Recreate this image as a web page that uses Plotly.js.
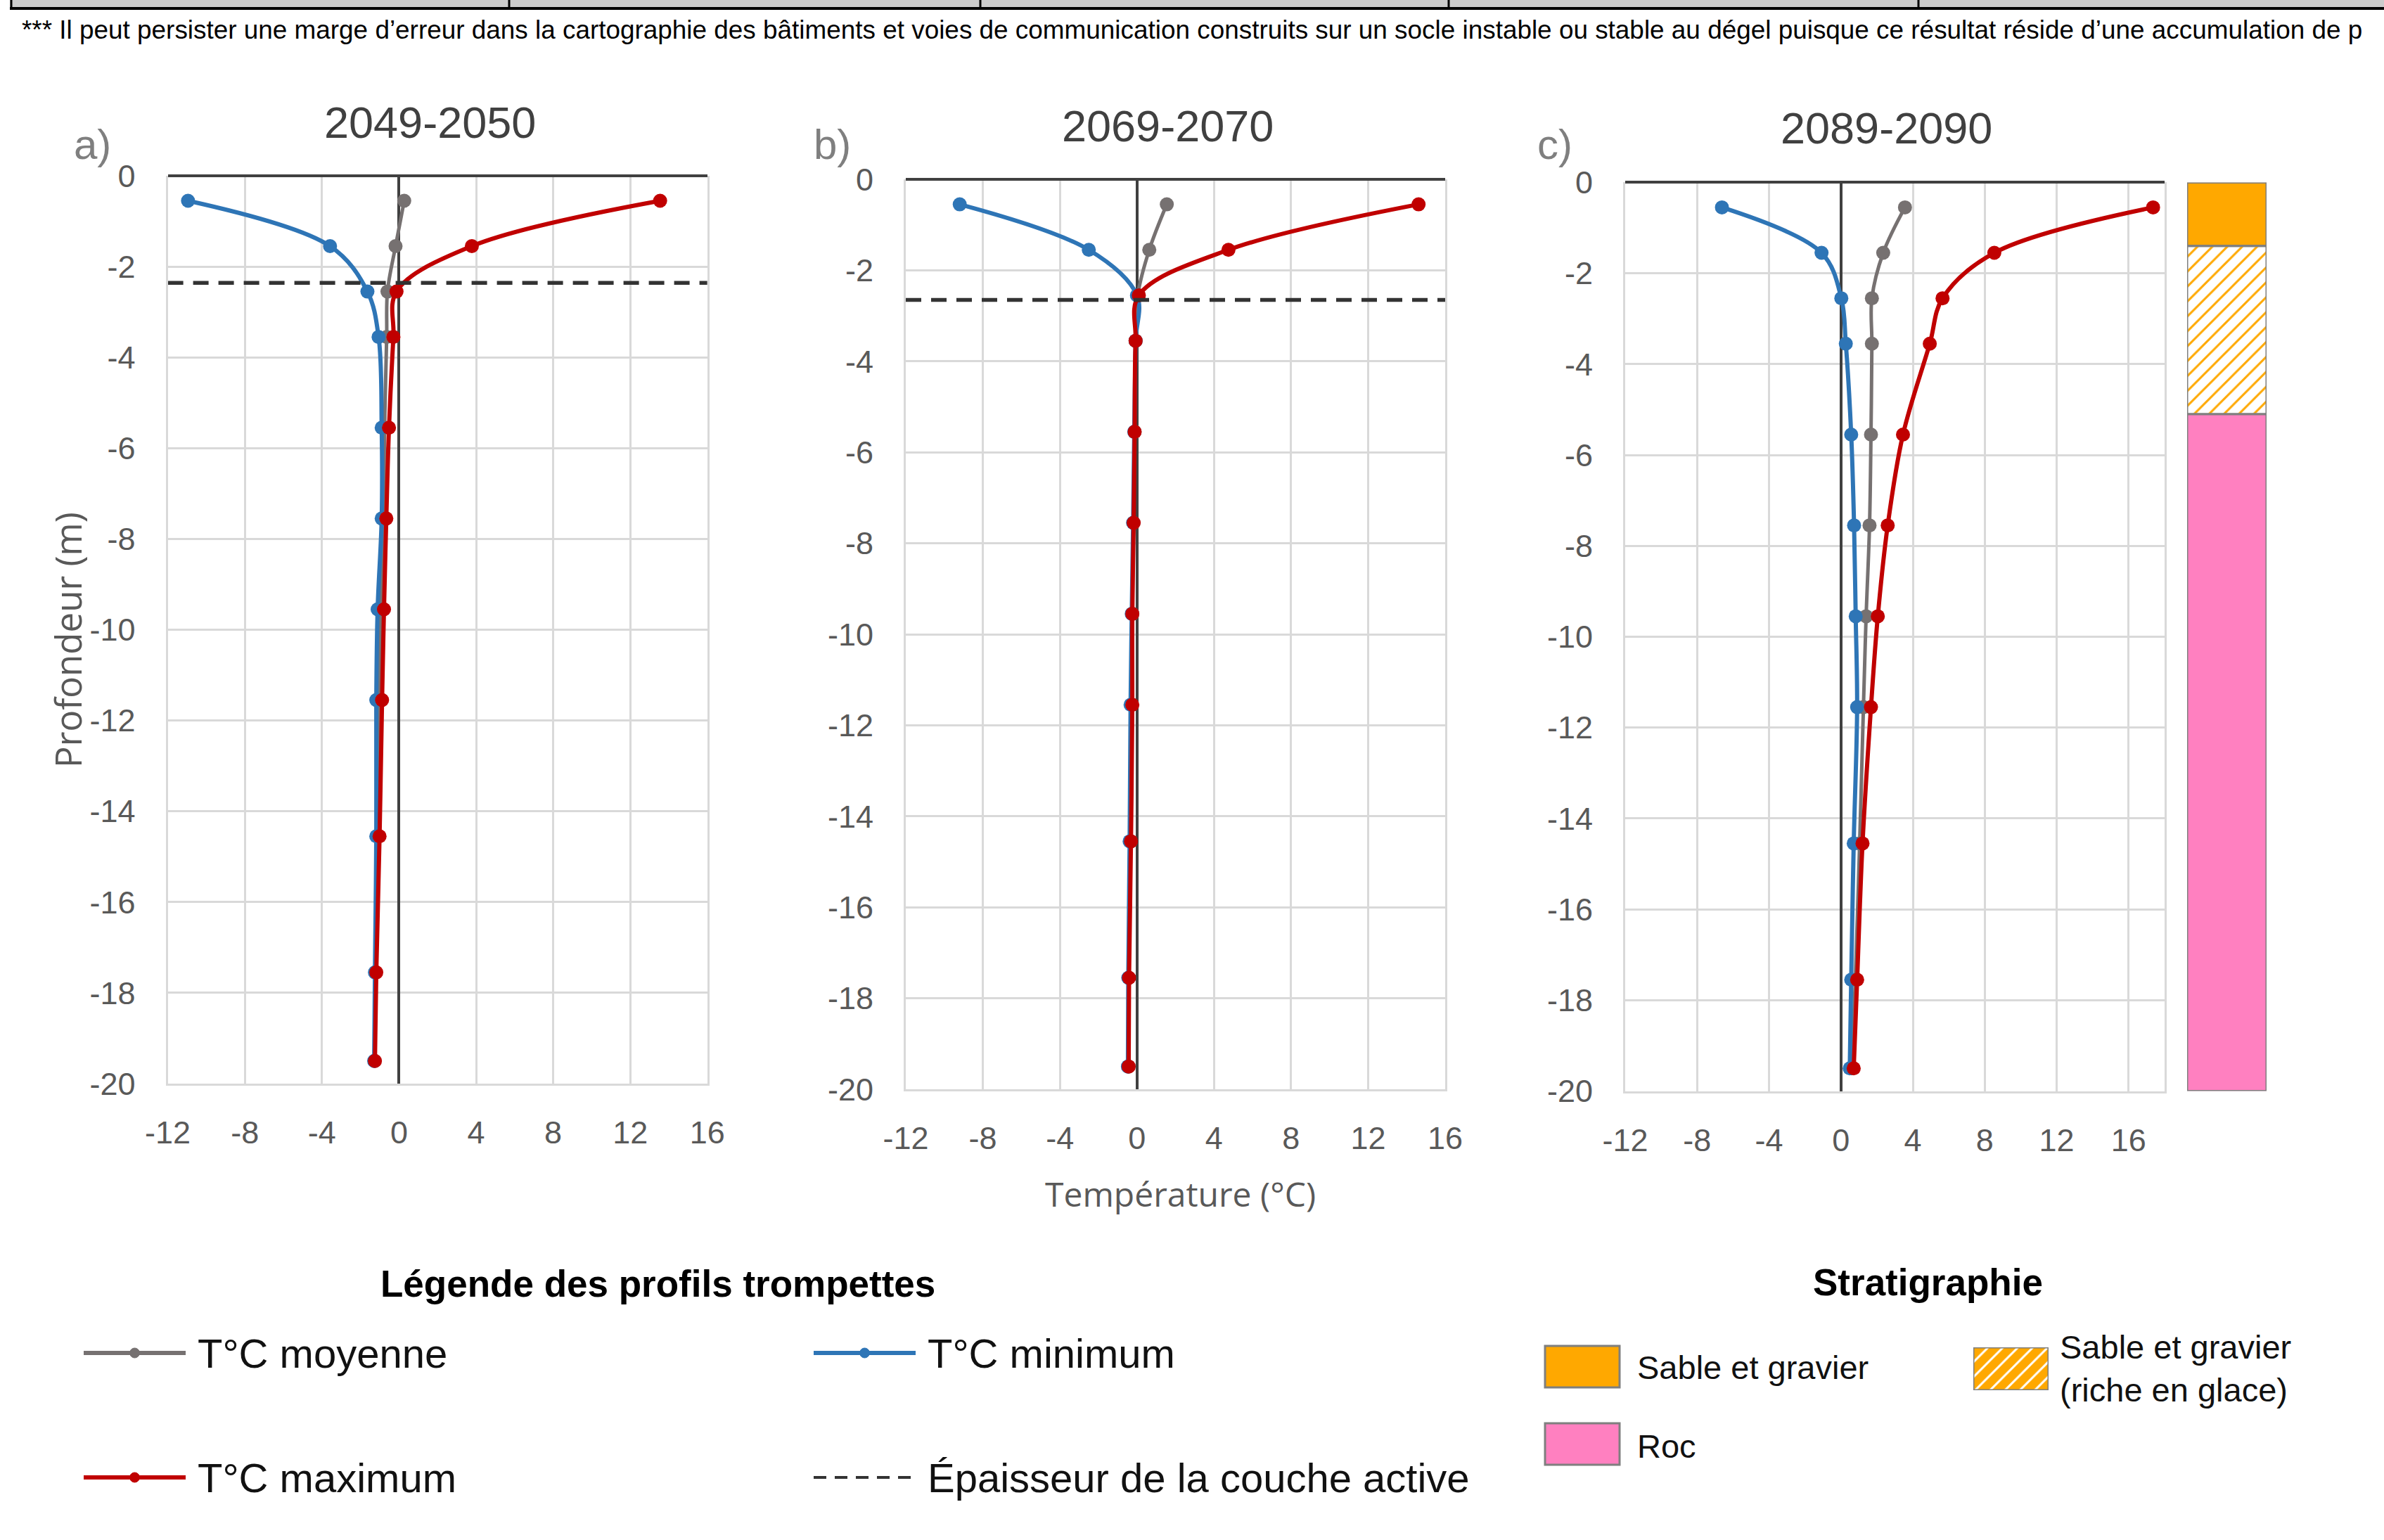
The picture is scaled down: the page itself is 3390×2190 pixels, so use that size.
<!DOCTYPE html>
<html><head><meta charset="utf-8">
<script src="https://cdn.plot.ly/plotly-3.0.1.min.js"></script>
<style>html,body{margin:0;padding:0;background:#fff;}#chart{width:3390px;height:2190px;}</style>
</head><body><div id="chart"></div>
<script>
// ---------- DATA ----------
const depths = [-0.55, -1.55, -2.55, -3.55, -5.55, -7.55, -9.55, -11.55, -14.55, -17.55, -19.5];
const periods = ['2049-2050', '2069-2070', '2089-2090'];
const panelLetters = ['a)', 'b)', 'c)'];
const seriesNames = ['T°C moyenne', 'T°C minimum', 'T°C maximum'];

const tMean2050 = [0.27, -0.18, -0.60, -0.64, -0.75, -0.80, -0.95, -1.03, -1.10, -1.22, -1.27];
const tMin2050  = [-10.95, -3.58, -1.64, -1.06, -0.90, -0.90, -1.11, -1.18, -1.18, -1.25, -1.29];
const tMax2050  = [13.55, 3.78, -0.13, -0.29, -0.52, -0.66, -0.78, -0.88, -1.01, -1.18, -1.25];

const tMean2070 = [1.55, 0.64, 0.04, -0.07, -0.12, -0.18, -0.24, -0.26, -0.32, -0.42, -0.44];
const tMin2070  = [-9.20, -2.50, 0.00, -0.07, -0.14, -0.20, -0.27, -0.33, -0.38, -0.45, -0.47];
const tMax2070  = [14.62, 4.75, 0.10, -0.07, -0.12, -0.17, -0.24, -0.24, -0.31, -0.41, -0.43];

const tMean2090 = [3.56, 2.35, 1.72, 1.72, 1.67, 1.59, 1.40, 1.25, 1.04, 0.80, 0.60];
const tMin2090  = [-6.62, -1.08, 0.02, 0.27, 0.57, 0.73, 0.82, 0.90, 0.71, 0.57, 0.49];
const tMax2090  = [17.36, 8.53, 5.65, 4.94, 3.45, 2.60, 2.05, 1.67, 1.20, 0.90, 0.71];

const activeLayerDepth = [-2.36, -2.65, null];

const xTickVals = [-12, -8, -4, 0, 4, 8, 12, 16];
const xTickText = ['-12', '-8', '-4', '0', '4', '8', '12', '16'];
const yTickVals = [0, -2, -4, -6, -8, -10, -12, -14, -16, -18, -20];
const yTickText = ['0', '-2', '-4', '-6', '-8', '-10', '-12', '-14', '-16', '-18', '-20'];

const stratLayers = ['Sable et gravier', 'Sable et gravier (riche en glace)', 'Roc'];
const stratTop    = [0, -1.4, -5.1];
const stratBottom = [-1.4, -5.1, -20];

const legendTitle = 'Légende des profils trompettes';
const stratTitle = 'Stratigraphie';
const activeLayerLabel = 'Épaisseur de la couche active';
const noteText = '*** Il peut persister une marge d’erreur dans la cartographie des bâtiments et voies de communication construits sur un socle instable ou stable au dégel puisque ce résultat réside d’une accumulation de p';

// ---------- STYLE / LAYOUT ----------
const W = 3390, H = 2190;
const px = x => x / W;
const py = y => 1 - y / H;
const colors = ['#767171', '#2E75B6', '#C00000'];
const stratColors = ['#FFA800', '#FFA800', '#FF80C0'];
const stratPatterns = ['', '/', ''];

const panelData = [
  [tMean2050, tMin2050, tMax2050],
  [tMean2070, tMin2070, tMax2070],
  [tMean2090, tMin2090, tMax2090]
];
const xRanges = [[-12, 16], [-12, 16], [-12, 18]];
const panelBoxes = [ // left, right, top, bottom in px
  [238.6, 1005.8, 250, 1541],
  [1288, 2055, 255, 1549],
  [2311, 3078, 259.4, 1551.5]
];
const stratBox = [3110, 3223, 259.4, 1551.5];

const tickFont = {family: 'Arial, Liberation Sans, sans-serif', size: 45, color: '#595959'};
const traces = [];
const layout = {
  width: W, height: H,
  margin: {l: 0, r: 0, t: 0, b: 0},
  paper_bgcolor: '#ffffff', plot_bgcolor: 'rgba(0,0,0,0)',
  showlegend: false,
  barmode: 'overlay',
  font: {family: 'Arial, Liberation Sans, sans-serif', color: '#000'},
  annotations: [], shapes: []
};

panelData.forEach((series, i) => {
  const s = i === 0 ? '' : String(i + 1);
  const b = panelBoxes[i];
  layout['xaxis' + s] = {
    domain: [px(b[0]), px(b[1])], anchor: 'y' + s,
    range: xRanges[i], tickvals: xTickVals, ticktext: xTickText, ticks: '',
    showgrid: true, gridcolor: '#D9D9D9', gridwidth: 3,
    zeroline: true, zerolinecolor: '#404040', zerolinewidth: 4,
    showline: true, linecolor: '#D9D9D9', linewidth: 3, mirror: false,
    tickfont: tickFont, ticklabelstandoff: 28, fixedrange: true
  };
  layout['yaxis' + s] = {
    domain: [py(b[3]), py(b[2])], anchor: 'x' + s,
    range: [-20, 0], tickvals: yTickVals, ticktext: yTickText, ticks: '',
    showgrid: true, gridcolor: '#D9D9D9', gridwidth: 3,
    zeroline: true, zerolinecolor: '#404040', zerolinewidth: 4,
    showline: true, linecolor: '#D9D9D9', linewidth: 3, mirror: true,
    tickfont: tickFont, ticklabelstandoff: 34, fixedrange: true
  };
  // series: mean, min, max (draw order)
  series.forEach((vals, k) => {
    traces.push({
      type: 'scatter', mode: 'lines+markers', name: seriesNames[k],
      x: vals, y: depths, xaxis: 'x' + s, yaxis: 'y' + s,
      line: {color: colors[k], width: k === 0 ? 5 : 6, shape: 'spline', smoothing: 1},
      marker: {color: colors[k], size: 20},
      cliponaxis: false
    });
  });
  if (activeLayerDepth[i] !== null) {
    traces.push({
      type: 'scatter', mode: 'lines', name: activeLayerLabel,
      x: xRanges[i], y: [activeLayerDepth[i], activeLayerDepth[i]],
      xaxis: 'x' + s, yaxis: 'y' + s,
      line: {color: '#333333', width: 5.5, dash: '22px,14px'},
      cliponaxis: false
    });
  }
  layout.annotations.push({
    xref: 'paper', yref: 'paper', x: px([611.7, 1660.6, 2682.4][i]), y: py([173.5, 179, 182][i]),
    xanchor: 'center', yanchor: 'middle', showarrow: false, text: periods[i],
    font: {family: 'Arial, Liberation Sans, sans-serif', size: 63, color: '#404040'}
  });
  layout.annotations.push({
    xref: 'paper', yref: 'paper', x: px([131.8, 1183, 2211][i]), y: py(206),
    xanchor: 'center', yanchor: 'middle', showarrow: false, text: panelLetters[i],
    font: {family: 'Arial, Liberation Sans, sans-serif', size: 60, color: '#7F7F7F'}
  });
});

// Stratigraphy column
layout.xaxis4 = {domain: [px(stratBox[0]), px(stratBox[1])], anchor: 'y4', range: [-0.5, 0.5], visible: false, fixedrange: true};
layout.yaxis4 = {domain: [py(stratBox[3]), py(stratBox[2])], anchor: 'x4', range: [-20, 0], visible: false, fixedrange: true};
traces.push({
  type: 'bar', xaxis: 'x4', yaxis: 'y4', name: 'Stratigraphie',
  x: [0, 0, 0], base: stratTop, y: stratTop.map((t, j) => stratBottom[j] - t), width: 1,
  text: stratLayers, textposition: 'none',
  marker: {color: stratColors, line: {color: '#7F7F7F', width: 3},
    pattern: {shape: stratPatterns, fgcolor: '#FFFFFF', bgcolor: stratColors, size: 15, solidity: 0.2}}
});

// Hatched legend swatch (mini axes)
layout.xaxis5 = {domain: [px(2806), px(2913)], anchor: 'y5', range: [-0.5, 0.5], visible: false, fixedrange: true};
layout.yaxis5 = {domain: [py(1977), py(1916)], anchor: 'x5', range: [0, 1], visible: false, fixedrange: true};
traces.push({
  type: 'bar', xaxis: 'x5', yaxis: 'y5', x: [0], y: [1], base: [0], width: 1, name: stratLayers[1],
  marker: {color: stratColors[1], line: {color: '#7F7F7F', width: 3},
    pattern: {shape: '/', fgcolor: '#FFFFFF', bgcolor: stratColors[1], size: 15, solidity: 0.2}}
});

// Axis titles
layout.annotations.push({
  xref: 'paper', yref: 'paper', x: px(96), y: py(910), xanchor: 'center', yanchor: 'middle',
  textangle: -90, showarrow: false, text: 'Profondeur (m)',
  font: {family: 'Open Sans, sans-serif', size: 51, color: '#595959'}
});
layout.annotations.push({
  xref: 'paper', yref: 'paper', x: px(1678), y: py(1697), xanchor: 'center', yanchor: 'middle',
  showarrow: false, text: 'Température (°C)',
  font: {family: 'Open Sans, sans-serif', size: 48, color: '#595959'}
});

// Note at top
layout.annotations.push({
  xref: 'paper', yref: 'paper', x: px(29), y: py(42), xanchor: 'left', yanchor: 'middle',
  showarrow: false, text: noteText,
  font: {family: 'Arial, Liberation Sans, sans-serif', size: 36.9, color: '#000'}
});
// Header row of a table cut at top
layout.shapes.push({type: 'rect', xref: 'paper', yref: 'paper', x0: px(14), x1: 1, y0: py(11), y1: 1, fillcolor: '#CCCCCC', line: {width: 0}, layer: 'below'});
layout.shapes.push({type: 'line', xref: 'paper', yref: 'paper', x0: px(14), x1: 1, y0: py(12), y1: py(12), line: {color: '#000', width: 4}});
[16, 724, 1394, 2060, 2728].forEach(xx => layout.shapes.push({type: 'line', xref: 'paper', yref: 'paper', x0: px(xx), x1: px(xx), y0: py(12), y1: 1, line: {color: '#000', width: 3}}));

// Legend: profiles
const bigLeg = {family: 'Arial, Liberation Sans, sans-serif', size: 58, color: '#111'};
layout.annotations.push({xref: 'paper', yref: 'paper', x: px(935), y: py(1825), xanchor: 'center', yanchor: 'middle', showarrow: false,
  text: '<b>' + legendTitle + '</b>', font: {family: 'Arial, Liberation Sans, sans-serif', size: 53, color: '#000'}});
layout.annotations.push({xref: 'paper', yref: 'paper', x: px(2741), y: py(1823), xanchor: 'center', yanchor: 'middle', showarrow: false,
  text: '<b>' + stratTitle + '</b>', font: {family: 'Arial, Liberation Sans, sans-serif', size: 53, color: '#000'}});

const legItems = [ // [seriesIndex, x0, x1, y, textX]
  [0, 119, 264, 1924, 279],
  [1, 1157, 1302, 1924, 1317],
  [2, 119, 264, 2101, 279]
];
legItems.forEach(([k, x0, x1, y, tx]) => {
  layout.shapes.push({type: 'line', xref: 'paper', yref: 'paper', x0: px(x0), x1: px(x1), y0: py(y), y1: py(y), line: {color: colors[k], width: 6}});
  const cx = (x0 + x1) / 2;
  layout.shapes.push({type: 'circle', xref: 'paper', yref: 'paper', x0: px(cx - 7), x1: px(cx + 7), y0: py(y + 7), y1: py(y - 7), fillcolor: colors[k], line: {color: colors[k], width: 1}});
  layout.annotations.push({xref: 'paper', yref: 'paper', x: px(tx), y: py(y), xanchor: 'left', yanchor: 'middle', showarrow: false, text: seriesNames[k], font: bigLeg});
});
layout.shapes.push({type: 'line', xref: 'paper', yref: 'paper', x0: px(1157), x1: px(1302), y0: py(2101), y1: py(2101), line: {color: '#333333', width: 4, dash: '18px,12px'}});
layout.annotations.push({xref: 'paper', yref: 'paper', x: px(1317), y: py(2101), xanchor: 'left', yanchor: 'middle', showarrow: false, text: activeLayerLabel, font: bigLeg});

// Legend: stratigraphy
const stratLeg = {family: 'Arial, Liberation Sans, sans-serif', size: 47, color: '#111'};
layout.shapes.push({type: 'rect', xref: 'paper', yref: 'paper', x0: px(2197), x1: px(2303), y0: py(1973), y1: py(1914), fillcolor: stratColors[0], line: {color: '#7F7F7F', width: 3}});
layout.shapes.push({type: 'rect', xref: 'paper', yref: 'paper', x0: px(2197), x1: px(2303), y0: py(2083), y1: py(2024), fillcolor: stratColors[2], line: {color: '#7F7F7F', width: 3}});
layout.annotations.push({xref: 'paper', yref: 'paper', x: px(2326), y: py(1944), xanchor: 'left', yanchor: 'middle', showarrow: false, text: stratLayers[0], font: stratLeg});
layout.annotations.push({xref: 'paper', yref: 'paper', x: px(2326), y: py(2056), xanchor: 'left', yanchor: 'middle', showarrow: false, text: stratLayers[2], font: stratLeg});
layout.annotations.push({xref: 'paper', yref: 'paper', x: px(2927), y: py(1946), xanchor: 'left', yanchor: 'middle', align: 'left', showarrow: false,
  text: 'Sable et gravier<br>(riche en glace)', font: stratLeg});

Plotly.newPlot('chart', traces, layout, {staticPlot: true, displayModeBar: false});
</script></body></html>
